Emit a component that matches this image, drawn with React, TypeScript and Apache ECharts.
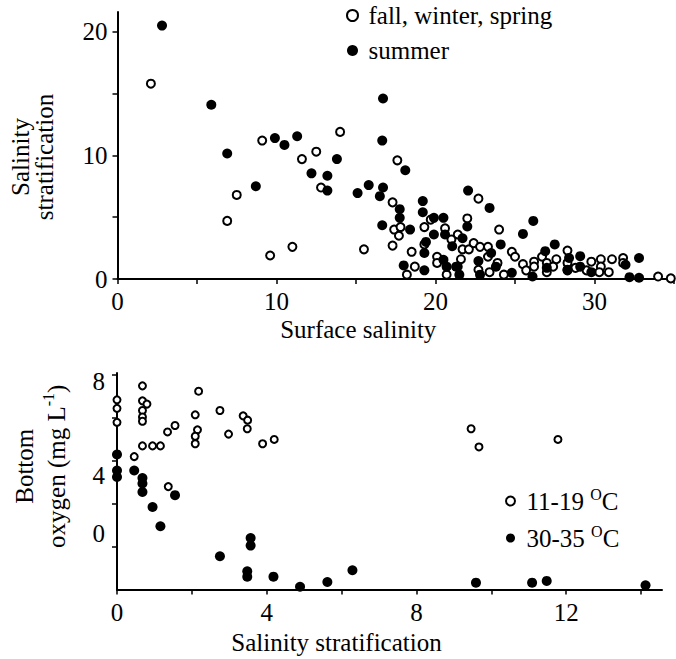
import React, { useEffect, useRef } from "react";
import * as echarts from "echarts";

// Top panel: surface salinity (x) vs salinity stratification (y)
const fallWinterSpring: [number, number][] = [
  [2.1, 15.8], [6.9, 4.7], [7.5, 6.8], [9.1, 11.2], [9.6, 1.9], [11.0, 2.6], [11.6, 9.7], [12.5, 10.3],
  [12.8, 7.4], [14.0, 11.9], [15.5, 2.4], [17.3, 6.2], [17.4, 4.0], [17.3, 2.7], [17.6, 9.6], [17.7, 3.5],
  [22.7, 6.5], [22.0, 4.9], [24.0, 4.0], [17.8, 4.2], [18.5, 2.2], [18.7, 1.0], [18.2, 0.35], [19.3, 4.2],
  [19.7, 4.8], [19.3, 2.8], [20.1, 1.8], [20.1, 1.3], [20.6, 4.1], [21.0, 3.2], [21.4, 3.6], [21.7, 2.4],
  [22.1, 2.4], [21.6, 1.6], [22.4, 2.9], [22.8, 2.6], [23.3, 2.6], [23.3, 1.8], [22.7, 0.75], [21.4, 1.0],
  [20.7, 0.35], [23.4, 0.55], [23.9, 1.3], [24.8, 2.2], [25.0, 1.8], [25.5, 1.2], [26.2, 1.4], [26.2, 1.0],
  [26.7, 1.8], [27.0, 1.3], [27.4, 1.0], [27.6, 1.6], [28.3, 2.3], [28.3, 1.3], [28.8, 0.9], [29.8, 1.4],
  [30.4, 1.6], [30.4, 1.0], [31.1, 1.6], [31.8, 1.7], [31.8, 1.3], [30.9, 0.55], [30.3, 0.55], [29.5, 0.7],
  [28.3, 0.7], [27.0, 0.55], [25.7, 0.7], [24.3, 0.35], [34.0, 0.2], [34.8, 0.05],
];
const summer: [number, number][] = [
  [2.8, 20.5], [5.9, 14.1], [6.9, 10.15], [8.7, 7.5], [9.9, 11.4], [10.5, 10.85], [11.3, 11.55], [12.2, 8.55],
  [13.2, 8.35], [13.2, 7.15], [13.8, 9.7], [15.1, 6.95], [15.8, 7.6], [16.7, 14.6], [16.65, 11.2], [16.7, 7.4],
  [16.5, 6.7], [16.65, 4.35], [17.75, 5.65], [17.75, 4.95], [18.1, 8.8], [19.2, 6.3], [19.2, 5.4], [22.05, 7.15],
  [23.4, 5.75], [19.9, 4.95], [20.5, 4.95], [19.9, 3.6], [20.6, 3.6], [18.4, 4.0], [19.4, 3.0], [19.3, 2.1],
  [18.0, 1.1], [19.3, 0.7], [20.5, 1.55], [20.7, 1.0], [21.3, 1.0], [21.7, 3.3], [22.0, 4.25], [21.05, 2.65],
  [22.7, 1.45], [23.5, 2.1], [24.1, 2.8], [23.8, 1.0], [24.8, 0.5], [25.5, 3.65], [26.15, 4.7], [26.9, 2.25],
  [27.5, 2.8], [27.0, 0.9], [28.4, 1.7], [28.3, 0.75], [29.1, 1.85], [29.1, 1.0], [31.95, 1.15], [32.8, 1.7],
  [32.2, 0.15], [32.8, 0.1], [29.8, 0.55], [26.1, 0.2], [22.8, 0.35], [21.5, 0.35],
];

// Bottom panel: salinity stratification (x) vs bottom oxygen (y)
const cool: [number, number][] = [
  [0.0, 6.85], [0.0, 6.45], [0.0, 5.8], [0.68, 7.5], [0.68, 6.8], [0.8, 6.65], [0.68, 6.35], [0.68, 6.05],
  [0.68, 5.85], [0.46, 4.2], [0.68, 4.7], [0.95, 4.7], [1.16, 4.7], [1.35, 5.35], [1.55, 5.65], [1.37, 2.8],
  [2.18, 7.25], [2.09, 6.15], [2.15, 5.45], [2.09, 5.15], [2.09, 4.8], [2.75, 6.35], [2.98, 5.25], [3.37, 6.1],
  [3.49, 5.9], [3.48, 5.5], [3.89, 4.8], [4.2, 5.0], [9.46, 5.5], [9.67, 4.65], [11.78, 5.0],
];
const warm: [number, number][] = [
  [0.0, 4.3], [0.0, 3.55], [0.0, 3.25], [0.46, 3.55], [0.68, 3.2], [0.68, 2.95], [0.68, 2.55], [1.55, 2.4],
  [0.95, 1.85], [1.16, 0.95], [2.75, -0.45], [3.57, 0.4], [3.57, 0.05], [3.48, -1.15], [3.48, -1.4], [4.18, -1.4],
  [4.89, -1.87], [5.62, -1.65], [6.29, -1.1], [9.59, -1.68], [11.09, -1.68], [11.48, -1.6], [14.12, -1.8],
];

const topXTicks = [0, 5, 10, 15, 20, 25, 30, 35];
const topXLabels = [0, 10, 20, 30];
const topYTicks = [0, 5, 10, 15, 20];
const topYLabels = [0, 10, 20];
const botXTicks = [0, 2, 4, 6, 8, 10, 12, 14];
const botXLabels = [0, 4, 8, 12];
const botYTicks = [0, 2, 4, 6, 8];
const botYLabels = [0, 4, 8];

const seriesNames = ["fall, winter, spring", "summer", "11-19 OC", "30-35 OC"];

const FONT = "Liberation Serif";
const FS = 25;

export default function App() {
  const ref = useRef<HTMLDivElement>(null);
  useEffect(() => {
    if (!ref.current) return;
    const chart = echarts.init(ref.current, undefined, { renderer: "svg" });
    const line = { show: true, onZero: false, lineStyle: { color: "#000", width: 2 } };
    const tick = (vals: number[]) => ({
      show: true,
      length: 5,
      customValues: vals,
      lineStyle: { color: "#000", width: 1.5 },
    });
    const lbl = (vals: number[], margin: number) => ({
      customValues: vals,
      fontFamily: FONT,
      fontSize: FS,
      color: "#000",
      margin,
    });
    const nameStyle = (padding: number[], extra: any = {}) => ({
      fontFamily: FONT,
      fontSize: FS,
      color: "#000",
      padding,
      ...extra,
    });
    const openStyle = { color: "#fff", borderColor: "#000", borderWidth: 2, opacity: 1 };
    const fillStyle = { color: "#000", opacity: 1 };
    const supStyle = { fontFamily: FONT, fontSize: 16, color: "#000", verticalAlign: "top", lineHeight: 18 };
    const option: any = {
      animation: false,
      backgroundColor: "#fff",
      textStyle: { fontFamily: FONT },
      grid: [
        { left: 117, right: 2, top: 12, bottom: 380 },
        { left: 116, right: 14, top: 373, bottom: 69.5 },
      ],
      xAxis: [
        {
          type: "value", gridIndex: 0, min: 0, max: 35,
          name: "Surface salinity", nameLocation: "middle", nameGap: 38,
          nameTextStyle: nameStyle([0, 75, 0, 0]),
          axisLine: line, axisTick: tick(topXTicks), axisLabel: lbl(topXLabels, 10),
          splitLine: { show: false },
        },
        {
          type: "value", gridIndex: 1, min: 0, max: 14.56,
          name: "Salinity stratification", nameLocation: "middle", nameGap: 40,
          nameTextStyle: nameStyle([0, 106, 0, 0]),
          axisLine: line, axisTick: tick(botXTicks), axisLabel: lbl(botXLabels, 10),
          splitLine: { show: false },
        },
      ],
      yAxis: [
        {
          type: "value", gridIndex: 0, min: 0, max: 21.6,
          name: "Salinity\nstratification", nameLocation: "middle", nameGap: 61, nameRotate: 90,
          nameTextStyle: nameStyle([0, 23, 0, 0], { lineHeight: 24 }),
          axisLine: line, axisTick: tick(topYTicks), axisLabel: lbl(topYLabels, 10),
          splitLine: { show: false },
        },
        {
          type: "value", gridIndex: 1, min: -2, max: 8.1,
          name: "Bottom\noxygen (mg L{sup|-1})", nameLocation: "middle", nameGap: 45, nameRotate: 90,
          nameTextStyle: nameStyle([0, 0, 0, 30], { lineHeight: 32, rich: { sup: supStyle } }),
          axisLine: line, axisTick: tick(botYTicks),
          axisLabel: {
            ...lbl(botYLabels, 12),
            formatter: (v: number) => (v === 8 ? "{a|8}" : v === 4 ? "{b|4}" : "{c|0}"),
            rich: {
              a: { fontFamily: FONT, fontSize: FS, color: "#000", padding: [12, 0, 0, 0] },
              b: { fontFamily: FONT, fontSize: FS, color: "#000", padding: [30, 0, 0, 0] },
              c: { fontFamily: FONT, fontSize: FS, color: "#000", padding: [0, 0, 26, 0] },
            },
          },
          splitLine: { show: false },
        },
      ],
      legend: [
        {
          data: [seriesNames[0], seriesNames[1]],
          orient: "vertical", left: 346, top: 3, padding: 0,
          itemWidth: 22, itemHeight: 11, itemGap: 10,
          icon: "circle", selectedMode: false,
          textStyle: { fontFamily: FONT, fontSize: FS, color: "#000", lineHeight: 25 },
        },
        {
          data: [seriesNames[2], seriesNames[3]],
          orient: "vertical", left: 505, top: 486, padding: 0,
          itemWidth: 22, itemHeight: 9, itemGap: 7,
          icon: "circle", selectedMode: false,
          formatter: (n: string) => n.replace(" OC", " {sup|O}C"),
          textStyle: {
            fontFamily: FONT, fontSize: FS, color: "#000", lineHeight: 30,
            rich: { sup: supStyle },
          },
        },
      ],
      series: [
        { name: seriesNames[0], type: "scatter", xAxisIndex: 0, yAxisIndex: 0, data: fallWinterSpring, symbol: "circle", symbolSize: 8, itemStyle: openStyle },
        { name: seriesNames[1], type: "scatter", xAxisIndex: 0, yAxisIndex: 0, data: summer, symbol: "circle", symbolSize: 10, itemStyle: fillStyle },
        { name: seriesNames[2], type: "scatter", xAxisIndex: 1, yAxisIndex: 1, data: cool, symbol: "circle", symbolSize: 7, itemStyle: openStyle },
        { name: seriesNames[3], type: "scatter", xAxisIndex: 1, yAxisIndex: 1, data: warm, symbol: "circle", symbolSize: 10, itemStyle: fillStyle },
      ],
    };
    chart.setOption(option);
    return () => chart.dispose();
  }, []);
  return (
    <div
      ref={ref}
      style={{ position: "fixed", left: 0, top: 0, width: 676, height: 659, background: "#fff" }}
    />
  );
}
